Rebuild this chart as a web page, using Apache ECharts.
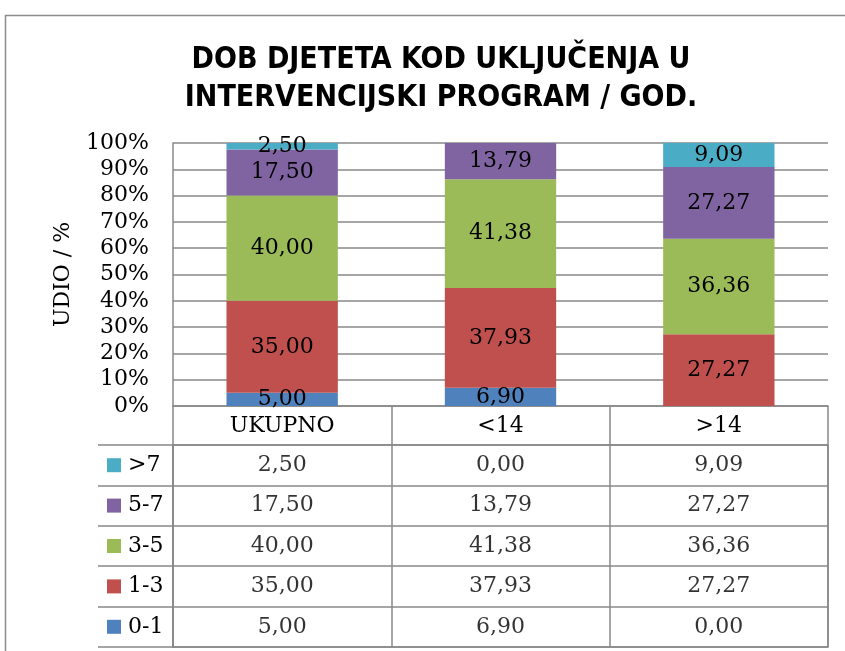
<!DOCTYPE html>
<html>
<head>
<meta charset="utf-8">
<script src="https://cdn.jsdelivr.net/npm/echarts@6/dist/echarts.min.js"></script>
<style>
html,body{margin:0;padding:0;background:#fff;}
#chart{width:845px;height:651px;}
</style>
</head>
<body>
<div id="chart"></div>
<script>
// categories and series values
var categories = ['UKUPNO', '<14', '>14'];
var groups = ['0-1', '1-3', '3-5', '5-7', '>7'];
var colors = ['#4F81BD', '#C0504D', '#9BBB59', '#8064A2', '#4BACC6'];
var v0_1 = [5.00, 6.90, 0.00];
var v1_3 = [35.00, 37.93, 27.27];
var v3_5 = [40.00, 41.38, 36.36];
var v5_7 = [17.50, 13.79, 27.27];
var v7 = [2.50, 0.00, 9.09];
var values = [v0_1, v1_3, v3_5, v5_7, v7];

var serif = '"DejaVu Serif", "Liberation Serif", serif';
var gray = '#888888';
var fs = 22;

function fmt(v){
	return v.toFixed(2).replace('.', ',');
}

var chart = echarts.init(document.getElementById('chart'));

var series = [];
groups.forEach(function(g, gi){
	series.push({
		name : g,
		type : 'bar',
		stack : 'total',
		barWidth : '51%',
		xAxisIndex : 0,
		yAxisIndex : 0,
		itemStyle : { color : colors[gi] },
		label : {
			show : true,
			position : 'inside',
			color : '#000',
			fontFamily : serif,
			fontSize : fs,
			formatter : function(p){ return p.value > 0 ? fmt(p.value) : ''; }
		},
		data : values[gi]
	});
});

// data table cells
var cells = [];
groups.forEach(function(g, gi){
	values[gi].forEach(function(v, ci){
		cells.push([ci, gi, v]);
	});
});
series.push({
	type : 'scatter',
	xAxisIndex : 1,
	yAxisIndex : 1,
	symbolSize : 1,
	itemStyle : { color : 'transparent' },
	label : {
		show : true,
		position : 'inside',
		color : '#000',
		fontFamily : serif,
		fontSize : fs,
		formatter : function(p){ return fmt(p.value[2]); }
	},
	data : cells
});

var rich = {};
colors.forEach(function(c, i){
	rich['s' + i] = { backgroundColor : c, width : 14, height : 14 };
});

chart.setOption({
	animation : false,
	title : {
		text : 'DOB DJETETA KOD UKLJUČENJA U\nINTERVENCIJSKI PROGRAM / GOD.',
		left : 436,
		top : 36,
		textAlign : 'center',
		textStyle : {
			fontFamily : '"DejaVu Sans Condensed", "Liberation Sans Narrow", "Liberation Sans", sans-serif',
			fontWeight : 'bold',
			fontSize : 30,
			lineHeight : 38,
			color : '#000'
		}
	},
	graphic : [{
		type : 'rect',
		shape : { x : 5.5, y : 15.5, width : 900, height : 700 },
		style : { fill : 'none', stroke : '#8c8c8c', lineWidth : 1.5 },
		silent : true
	}],
	grid : [
		{ left : 173, right : 17, top : 143, height : 263 },
		{ left : 173, right : 17, top : 445, bottom : 4, show : true, borderColor : gray, borderWidth : 1.5 }
	],
	xAxis : [{
		type : 'category',
		gridIndex : 0,
		data : categories,
		axisLine : { lineStyle : { color : gray, width : 1.5 } },
		axisTick : { show : true, length : 39, lineStyle : { color : gray, width : 1.5 } },
		axisLabel : { color : '#000', fontFamily : serif, fontSize : fs, margin : 9 },
		splitLine : { show : false }
	}, {
		type : 'category',
		gridIndex : 1,
		data : categories,
		axisLine : { show : false },
		axisTick : { show : false },
		axisLabel : { show : false },
		splitLine : { show : true, lineStyle : { color : gray, width : 1.5 } }
	}],
	yAxis : [{
		type : 'value',
		gridIndex : 0,
		min : 0,
		max : 100,
		interval : 10,
		name : 'UDIO / %',
		nameLocation : 'middle',
		nameGap : 99,
		nameTextStyle : { color : '#000', fontFamily : serif, fontSize : fs },
		axisLine : { show : true, lineStyle : { color : gray, width : 1.5 } },
		axisTick : { show : false },
		axisLabel : { color : '#000', fontFamily : serif, fontSize : fs, margin : 24, formatter : '{value}%' },
		splitLine : { show : true, lineStyle : { color : gray, width : 1.5 } }
	}, {
		type : 'category',
		gridIndex : 1,
		data : groups,
		axisLine : { show : true, lineStyle : { color : gray, width : 1.5 } },
		axisTick : { show : true, inside : false, length : 75, lineStyle : { color : gray, width : 1.5 } },
		axisLabel : {
			color : '#000',
			fontFamily : serif,
			fontSize : fs,
			align : 'left',
			margin : 66,
			formatter : function(val, idx){ return '{s' + idx + '|} ' + val; },
			rich : rich
		},
		splitLine : { show : true, lineStyle : { color : gray, width : 1.5 } }
	}, {
		type : 'category',
		gridIndex : 1,
		data : groups,
		offset : 75,
		axisLine : { show : true, lineStyle : { color : gray, width : 1.5 } },
		axisTick : { show : false },
		axisLabel : { show : false },
		splitLine : { show : false }
	}],
	series : series
});
</script>
</body>
</html>
